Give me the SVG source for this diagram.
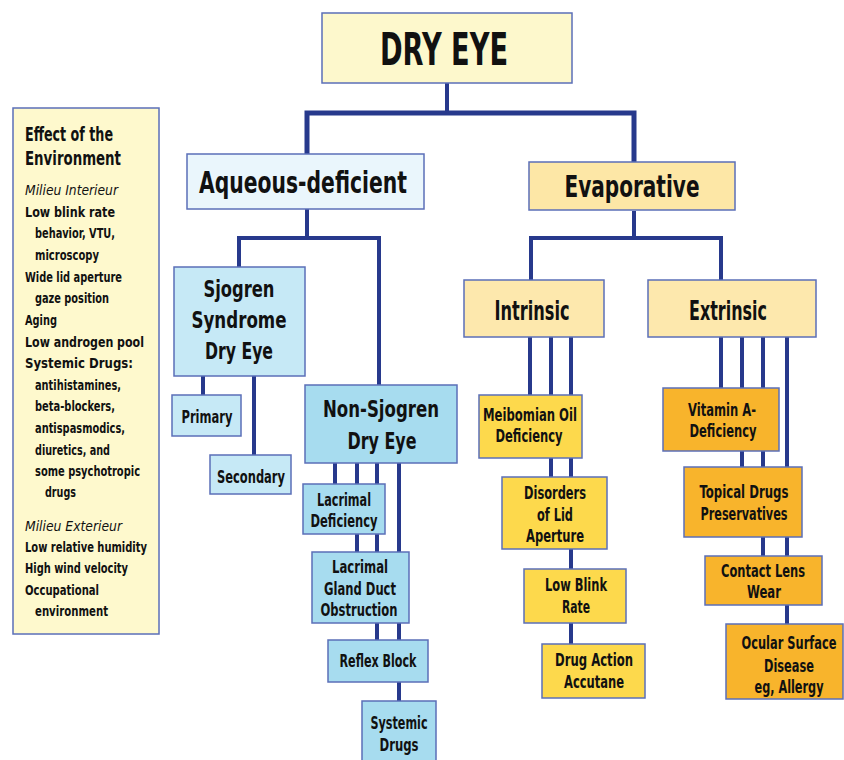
<svg xmlns="http://www.w3.org/2000/svg" width="844" height="760" viewBox="0 0 844 760">
<style>
text{font-family:"DejaVu Sans Condensed","Liberation Sans",sans-serif;font-weight:bold;fill:#111;text-anchor:middle}
.box{stroke:#5b6fb8;stroke-width:1.5}
.c{fill:none;stroke:#27398c;stroke-width:4;stroke-linecap:butt;stroke-linejoin:miter}
.env text{text-anchor:start;font-size:13.5px}
.env .h{font-size:19px}
.env .i{font-style:italic;font-weight:normal;font-size:14.5px}
.t1{font-size:44px}
.t2{font-size:30px}
.t3{font-size:23px}
.t5{font-size:26px}
.t4{font-size:18px}
</style>
<rect width="844" height="760" fill="#fff"/>
<g id="connectors">
<path class="c" d="M447,83V113"/>
<path class="c" d="M307,154V113H634V162" style="stroke-width:5"/>
<path class="c" d="M307,209V238"/>
<path class="c" d="M239,267V238H379V385"/>
<path class="c" d="M634,211V238"/>
<path class="c" d="M531,280V238H721V280"/>
<path class="c" d="M203,376V395"/>
<path class="c" d="M254,376V455"/>
<path class="c" d="M335,463V484"/>
<path class="c" d="M357,463V552"/>
<path class="c" d="M377,463V640"/>
<path class="c" d="M399,463V701"/>
<path class="c" d="M530,337V395"/>
<path class="c" d="M551,337V477"/>
<path class="c" d="M571,337V644"/>
<path class="c" d="M721,337V388"/>
<path class="c" d="M742,337V467"/>
<path class="c" d="M763,337V556"/>
<path class="c" d="M787,337V624"/>
</g>
<g id="environment" class="env">
<rect class="box" x="13" y="108" width="146" height="526" fill="#fef9cd"/>
<text class="h" x="25" y="141" textLength="88" lengthAdjust="spacingAndGlyphs">Effect of the</text>
<text class="h" x="25" y="165" textLength="96" lengthAdjust="spacingAndGlyphs">Environment</text>
<text class="i" x="25" y="195" textLength="93" lengthAdjust="spacingAndGlyphs">Milieu Interieur</text>
<text x="25" y="217" textLength="90" lengthAdjust="spacingAndGlyphs">Low blink rate</text>
<text x="35" y="238" textLength="80" lengthAdjust="spacingAndGlyphs">behavior, VTU,</text>
<text x="35" y="260" textLength="64" lengthAdjust="spacingAndGlyphs">microscopy</text>
<text x="25" y="282" textLength="97" lengthAdjust="spacingAndGlyphs">Wide lid aperture</text>
<text x="35" y="303" textLength="74" lengthAdjust="spacingAndGlyphs">gaze position</text>
<text x="25" y="325" textLength="32" lengthAdjust="spacingAndGlyphs">Aging</text>
<text x="25" y="347" textLength="119" lengthAdjust="spacingAndGlyphs">Low androgen pool</text>
<text x="25" y="368" textLength="108" lengthAdjust="spacingAndGlyphs">Systemic Drugs:</text>
<text x="35" y="390" textLength="86" lengthAdjust="spacingAndGlyphs">antihistamines,</text>
<text x="35" y="411" textLength="80" lengthAdjust="spacingAndGlyphs">beta-blockers,</text>
<text x="35" y="433" textLength="90" lengthAdjust="spacingAndGlyphs">antispasmodics,</text>
<text x="35" y="455" textLength="75" lengthAdjust="spacingAndGlyphs">diuretics, and</text>
<text x="35" y="476" textLength="105" lengthAdjust="spacingAndGlyphs">some psychotropic</text>
<text x="45" y="497" textLength="31" lengthAdjust="spacingAndGlyphs">drugs</text>
<text class="i" x="25" y="531" textLength="97" lengthAdjust="spacingAndGlyphs">Milieu Exterieur</text>
<text x="25" y="552" textLength="122" lengthAdjust="spacingAndGlyphs">Low relative humidity</text>
<text x="25" y="573" textLength="103" lengthAdjust="spacingAndGlyphs">High wind velocity</text>
<text x="25" y="595" textLength="74" lengthAdjust="spacingAndGlyphs">Occupational</text>
<text x="35" y="616" textLength="73" lengthAdjust="spacingAndGlyphs">environment</text>
</g>
<g id="dry-eye">
<rect class="box" x="322" y="13" width="250" height="70" fill="#fdf8cc"/>
<text class="t1" x="444" y="65" textLength="128" lengthAdjust="spacingAndGlyphs">DRY EYE</text>
</g>
<g id="aqueous-deficient">
<rect class="box" x="187" y="154" width="237" height="55" fill="#eaf6fc"/>
<text class="t2" x="303" y="193" textLength="208" lengthAdjust="spacingAndGlyphs">Aqueous-deficient</text>
</g>
<g id="evaporative">
<rect class="box" x="529" y="162" width="206" height="48" fill="#fde7a6"/>
<text class="t2" x="632" y="197" textLength="135" lengthAdjust="spacingAndGlyphs">Evaporative</text>
</g>
<g id="sjogren">
<rect class="box" x="174" y="267" width="131" height="109" fill="#c6e9f6"/>
<text class="t3" x="239" y="297" textLength="71" lengthAdjust="spacingAndGlyphs">Sjogren</text>
<text class="t3" x="239" y="328" textLength="95" lengthAdjust="spacingAndGlyphs">Syndrome</text>
<text class="t3" x="239" y="359" textLength="68" lengthAdjust="spacingAndGlyphs">Dry Eye</text>
</g>
<g id="primary">
<rect class="box" x="172" y="395" width="69" height="41" fill="#c6e9f6"/>
<text class="t4" x="207" y="423" textLength="51" lengthAdjust="spacingAndGlyphs">Primary</text>
</g>
<g id="secondary">
<rect class="box" x="210" y="455" width="81" height="39" fill="#c6e9f6"/>
<text class="t4" x="251" y="483" textLength="68" lengthAdjust="spacingAndGlyphs">Secondary</text>
</g>
<g id="non-sjogren">
<rect class="box" x="305" y="385" width="152" height="78" fill="#a7dcef"/>
<text class="t3" x="381" y="417" textLength="116" lengthAdjust="spacingAndGlyphs">Non-Sjogren</text>
<text class="t3" x="382" y="449" textLength="69" lengthAdjust="spacingAndGlyphs">Dry Eye</text>
</g>
<g id="lacrimal-deficiency">
<rect class="box" x="303" y="484" width="82" height="50" fill="#a7dcef"/>
<text class="t4" x="344" y="506" textLength="54" lengthAdjust="spacingAndGlyphs">Lacrimal</text>
<text class="t4" x="344" y="527" textLength="67" lengthAdjust="spacingAndGlyphs">Deficiency</text>
</g>
<g id="lacrimal-gland">
<rect class="box" x="312" y="552" width="97" height="71" fill="#a7dcef"/>
<text class="t4" x="360" y="573" textLength="56" lengthAdjust="spacingAndGlyphs">Lacrimal</text>
<text class="t4" x="360" y="595" textLength="72" lengthAdjust="spacingAndGlyphs">Gland Duct</text>
<text class="t4" x="359" y="616" textLength="77" lengthAdjust="spacingAndGlyphs">Obstruction</text>
</g>
<g id="reflex-block">
<rect class="box" x="328" y="640" width="100" height="42" fill="#a7dcef"/>
<text class="t4" x="378" y="667" textLength="77" lengthAdjust="spacingAndGlyphs">Reflex Block</text>
</g>
<g id="systemic-drugs">
<rect class="box" x="362" y="701" width="74" height="62" fill="#a7dcef"/>
<text class="t4" x="399" y="729" textLength="57" lengthAdjust="spacingAndGlyphs">Systemic</text>
<text class="t4" x="399" y="751" textLength="39" lengthAdjust="spacingAndGlyphs">Drugs</text>
</g>
<g id="intrinsic">
<rect class="box" x="464" y="280" width="140" height="57" fill="#fde8ad"/>
<text class="t5" x="532" y="320" textLength="75" lengthAdjust="spacingAndGlyphs">Intrinsic</text>
</g>
<g id="extrinsic">
<rect class="box" x="648" y="280" width="168" height="57" fill="#fde8ad"/>
<text class="t5" x="728" y="320" textLength="78" lengthAdjust="spacingAndGlyphs">Extrinsic</text>
</g>
<g id="meibomian">
<rect class="box" x="479" y="395" width="103" height="63" fill="#fdd94c"/>
<text class="t4" x="530" y="421" textLength="94" lengthAdjust="spacingAndGlyphs">Meibomian Oil</text>
<text class="t4" x="529" y="442" textLength="67" lengthAdjust="spacingAndGlyphs">Deficiency</text>
</g>
<g id="lid-aperture">
<rect class="box" x="502" y="477" width="105" height="72" fill="#fdd94c"/>
<text class="t4" x="555" y="499" textLength="62" lengthAdjust="spacingAndGlyphs">Disorders</text>
<text class="t4" x="555" y="521" textLength="36" lengthAdjust="spacingAndGlyphs">of Lid</text>
<text class="t4" x="555" y="542" textLength="58" lengthAdjust="spacingAndGlyphs">Aperture</text>
</g>
<g id="low-blink">
<rect class="box" x="524" y="569" width="102" height="54" fill="#fdd94c"/>
<text class="t4" x="576" y="591" textLength="62" lengthAdjust="spacingAndGlyphs">Low Blink</text>
<text class="t4" x="576" y="613" textLength="28" lengthAdjust="spacingAndGlyphs">Rate</text>
</g>
<g id="drug-action">
<rect class="box" x="542" y="644" width="103" height="54" fill="#fdd94c"/>
<text class="t4" x="594" y="666" textLength="78" lengthAdjust="spacingAndGlyphs">Drug Action</text>
<text class="t4" x="594" y="688" textLength="60" lengthAdjust="spacingAndGlyphs">Accutane</text>
</g>
<g id="vitamin-a">
<rect class="box" x="663" y="388" width="116" height="63" fill="#f8b42c"/>
<text class="t4" x="722" y="416" textLength="68" lengthAdjust="spacingAndGlyphs">Vitamin A-</text>
<text class="t4" x="723" y="437" textLength="67" lengthAdjust="spacingAndGlyphs">Deficiency</text>
</g>
<g id="topical-drugs">
<rect class="box" x="684" y="467" width="118" height="70" fill="#f8b42c"/>
<text class="t4" x="744" y="498" textLength="89" lengthAdjust="spacingAndGlyphs">Topical Drugs</text>
<text class="t4" x="744" y="520" textLength="87" lengthAdjust="spacingAndGlyphs">Preservatives</text>
</g>
<g id="contact-lens">
<rect class="box" x="705" y="556" width="117" height="49" fill="#f8b42c"/>
<text class="t4" x="763" y="577" textLength="84" lengthAdjust="spacingAndGlyphs">Contact Lens</text>
<text class="t4" x="764" y="598" textLength="34" lengthAdjust="spacingAndGlyphs">Wear</text>
</g>
<g id="ocular-surface">
<rect class="box" x="726" y="624" width="117" height="75" fill="#f8b42c"/>
<text class="t4" x="789" y="649" textLength="95" lengthAdjust="spacingAndGlyphs">Ocular Surface</text>
<text class="t4" x="789" y="672" textLength="50" lengthAdjust="spacingAndGlyphs">Disease</text>
<text class="t4" x="789" y="693" textLength="69" lengthAdjust="spacingAndGlyphs">eg, Allergy</text>
</g>
</svg>
